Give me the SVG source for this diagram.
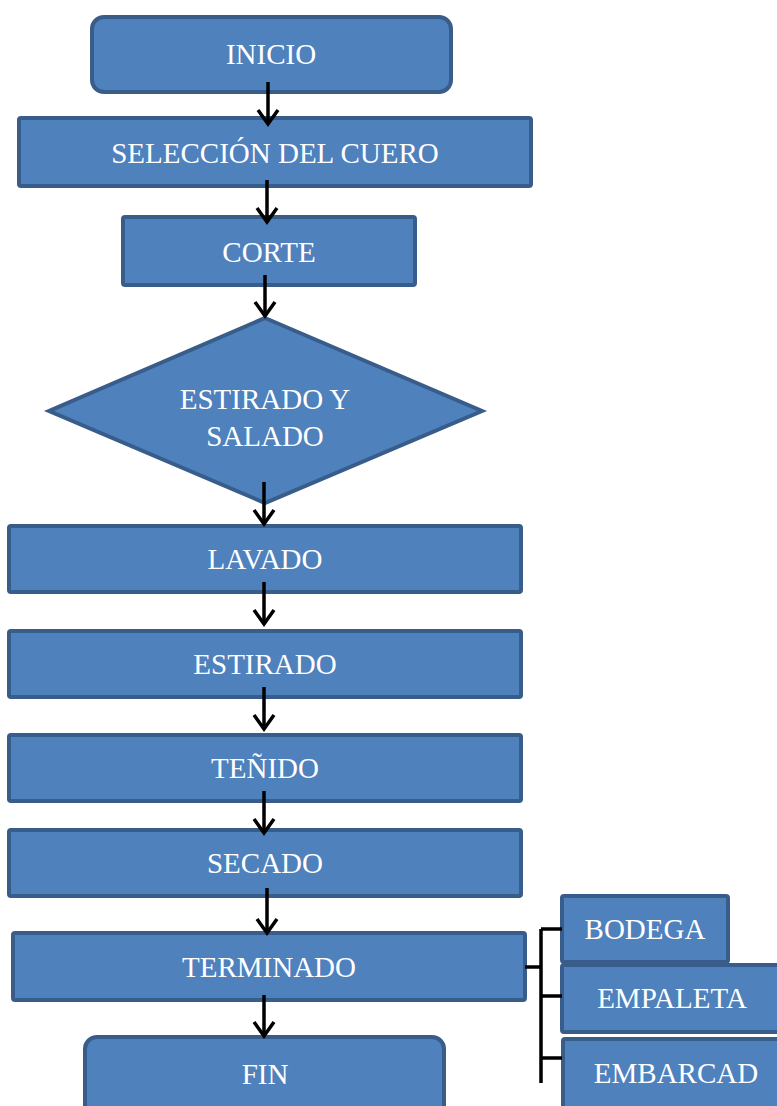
<svg xmlns="http://www.w3.org/2000/svg" width="777" height="1106" viewBox="0 0 777 1106">
<defs>
<style>
.n{fill:#4f81bd;stroke:#385d8a;stroke-width:4}
.t{font-family:"Liberation Serif","DejaVu Serif",serif;font-size:29px;fill:#ffffff;text-anchor:middle}
.c{stroke:#000;stroke-width:3.5;fill:none}
</style>
<marker id="ah" markerUnits="userSpaceOnUse" markerWidth="26" markerHeight="20" refX="12" refY="16" orient="0" viewBox="0 0 26 20">
<path d="M2,2 L12,16 L22,2" fill="none" stroke="#000" stroke-width="3.5"/>
</marker>
</defs>
<rect width="777" height="1106" fill="#fff"/>
<g id="inicio"><rect class="n" x="92" y="17" width="359" height="75" rx="12"/><text class="t" x="271" y="64">INICIO</text></g>
<g id="seleccion"><rect class="n" x="19" y="118" width="512" height="68" rx="2"/><text class="t" x="275" y="163">SELECCIÓN DEL CUERO</text></g>
<g id="corte"><rect class="n" x="123" y="217" width="292" height="68" rx="2"/><text class="t" x="269" y="262">CORTE</text></g>
<g id="estirado-salado"><polygon class="n" points="265,318 482,411 265,503 49,411"/><text class="t" x="265" y="409">ESTIRADO Y</text><text class="t" x="265" y="446">SALADO</text></g>
<g id="lavado"><rect class="n" x="9" y="526" width="512" height="66" rx="2"/><text class="t" x="265" y="569">LAVADO</text></g>
<g id="estirado"><rect class="n" x="9" y="631" width="512" height="66" rx="2"/><text class="t" x="265" y="674">ESTIRADO</text></g>
<g id="tenido"><rect class="n" x="9" y="735" width="512" height="66" rx="2"/><text class="t" x="265" y="778">TEÑIDO</text></g>
<g id="secado"><rect class="n" x="9" y="830" width="512" height="66" rx="2"/><text class="t" x="265" y="873">SECADO</text></g>
<g id="terminado"><rect class="n" x="13" y="933" width="512" height="67" rx="2"/><text class="t" x="269" y="977">TERMINADO</text></g>
<g id="fin"><rect class="n" x="85" y="1037" width="359" height="80" rx="12"/><text class="t" x="265" y="1084">FIN</text></g>
<g id="bodega"><rect class="n" x="562" y="896" width="166" height="66" rx="2"/><text class="t" x="645" y="939">BODEGA</text></g>
<g id="empaleta"><rect class="n" x="562" y="965" width="228" height="67" rx="2"/><text class="t" x="672" y="1008">EMPALETA</text></g>
<g id="embarcad"><rect class="n" x="563" y="1039" width="228" height="80" rx="2"/><text class="t" x="676" y="1083">EMBARCAD</text></g>
<g id="connectors">
<line class="c" x1="268" y1="82" x2="268" y2="124" marker-end="url(#ah)"/>
<line class="c" x1="267" y1="180" x2="267" y2="222" marker-end="url(#ah)"/>
<line class="c" x1="265" y1="275" x2="265" y2="316" marker-end="url(#ah)"/>
<line class="c" x1="264" y1="482" x2="264" y2="524" marker-end="url(#ah)"/>
<line class="c" x1="264" y1="582" x2="264" y2="624" marker-end="url(#ah)"/>
<line class="c" x1="264" y1="687" x2="264" y2="729" marker-end="url(#ah)"/>
<line class="c" x1="264" y1="791" x2="264" y2="833" marker-end="url(#ah)"/>
<line class="c" x1="267" y1="888" x2="267" y2="933" marker-end="url(#ah)"/>
<line class="c" x1="264" y1="995" x2="264" y2="1036" marker-end="url(#ah)"/>
<path class="c" d="M525,967 H541 M541,929 V1083 M541,929 H562 M541,996 H562 M541,1058 H562"/>
</g>
</svg>
